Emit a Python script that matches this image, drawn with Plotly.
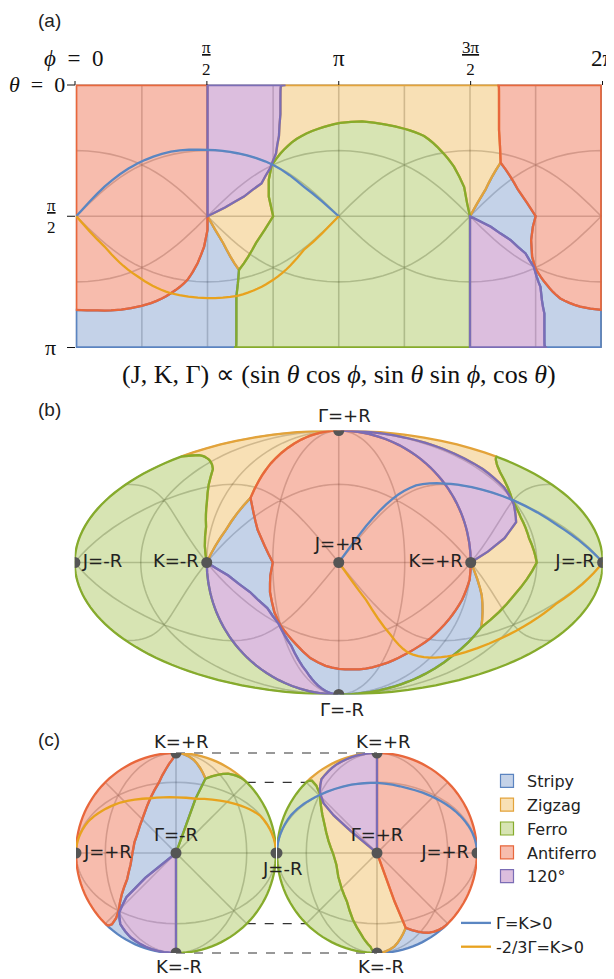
import numpy as np
import plotly.graph_objects as go

# Phase boundaries; phi, theta in degrees with
# (J, K, Gamma) ~ (sin th cos phi, sin th sin phi, cos th)

# antiferro / stripy, left branch
af_sz_l_phi = [90, 90, 87.7, 83.2, 76.3, 64.9, 51.3, 37.6, 23.9, 14.8, 0]
af_sz_l_th = [90, 99.4, 110.8, 122.2, 133.6, 142.8, 149.6, 153, 154.6, 154.6, 154.2]
# antiferro / stripy, right branch
af_sz_r_phi = [315, 313.1, 311.9, 312.6, 314.9, 322.8, 331.9, 345.5, 360]
af_sz_r_th = [90, 97.2, 106.4, 117.8, 125.8, 137.2, 146.4, 152, 154.2]
# antiferro / zigzag (top right)
af_zz_phi = [288.8, 289.9, 291]
af_zz_th = [0, 30.9, 53.3]
# antiferro / stripy wedge
af_tri_phi = [291, 302.9, 315]
af_tri_th = [53.3, 71.8, 90]
# antiferro / 120 (phi = pi/2)
af_v_phi = [90, 90]
af_v_th = [0, 90]
# zigzag / stripy
zz_sz_l_phi = [90, 100.7, 111.6]
zz_sz_l_th = [90, 108.3, 126.8]
zz_sz_r_phi = [270, 280.6, 291]
zz_sz_r_th = [90, 71.8, 53.3]
# 120 / zigzag
v_zz_phi = [90, 102, 115, 127, 133, 137, 139, 140, 143.5]
v_zz_th = [90, 84, 76.5, 67.5, 57, 47, 35, 20, 0]
# 120 / stripy (lower right)
v_sz_phi = [270, 284.3, 297.9, 308.1, 313.7, 318.3, 321, 322.8]
v_sz_th = [90, 97.2, 106.4, 115.5, 124.6, 138.4, 156.7, 180]
# ferro / zigzag dome
fm_zz_phi = [135, 132, 132, 134, 140, 151, 166, 181, 196, 211.5, 225, 238.5, 250, 259, 266, 268, 270]
fm_zz_th = [90, 76.5, 65, 55, 47, 37, 30, 26, 25, 27, 30, 35, 45, 56, 70, 81, 90]
fm_zz2_phi = [135, 123.3, 111.6]
fm_zz2_th = [90, 108.3, 126.8]
# ferro / stripy
fm_sz_phi = [111.6, 109.8, 108.2]
fm_sz_th = [126.8, 145, 180]
# ferro / 120 (phi = 3pi/2)
fm_v_phi = [270, 270]
fm_v_th = [90, 180]

# special lines
gk_phi = [0, 19.4, 42.2, 64.9, 90, 110.5, 135.1, 156, 180]       # Gamma = K > 0
gk_th = [90, 69.7, 53.7, 45.7, 44.5, 46.8, 54.8, 69.7, 90]
zk_phi = [0, 19.4, 42.2, 64.9, 90, 110.5, 135.1, 156, 180]       # -2/3 Gamma = K > 0
zk_th = [90, 110.8, 131.3, 142.8, 146.2, 144.6, 133.6, 113.1, 90]

# extra grid: great circles through the J and K axes at 45 deg
circ_lon = [[0, 90, 180, 270, 360], [0, 90, 180, 270, 360],
            [0, 90, 180, 270, 360], [0, 90, 180, 270, 360]]
circ_lat = [[0, 45, 0, -45, 0], [0, -45, 0, 45, 0],
            [45, 0, -45, 0, 45], [-45, 0, 45, 0, -45]]

phases = ['Stripy', 'Zigzag', 'Ferro', 'Antiferro', '120°']
line_col = {'Stripy': '#5b84c0', 'Zigzag': '#e3a33a', 'Ferro': '#86ab2c',
            'Antiferro': '#e8673c', '120°': '#7b6db5'}
fill_col = {'Stripy': 'rgba(125,155,205,0.45)', 'Zigzag': 'rgba(238,178,70,0.4)',
            'Ferro': 'rgba(150,185,55,0.38)', 'Antiferro': 'rgba(238,112,80,0.47)',
            '120°': 'rgba(185,125,190,0.5)'}
GK_COL, ZK_COL = '#5a86c2', '#e8a21e'
GRID = 'rgba(0,0,0,0.26)'
PT_COL = '#555555'
LABEL_FONT = dict(family='DejaVu Sans', size=18, color='#222')


def piece(phi, th, rev=False, shift=0):
    p = [x + shift for x in phi]
    t = list(th)
    if rev:
        p, t = p[::-1], t[::-1]
    return p, t


def ring(*pieces):
    lon, th = [], []
    for p, t in pieces:
        lon += p
        th += t
    lon.append(lon[0])
    th.append(th[0])
    lat = np.clip(90 - np.array(th, float), -89.9, 89.9)
    return lon, list(lat)


rings = {
    'Stripy': [ring(piece(zz_sz_r_phi, zz_sz_r_th, shift=-360),
                    piece(af_tri_phi, af_tri_th, shift=-360),
                    piece(af_sz_r_phi, af_sz_r_th, shift=-360),
                    piece(af_sz_l_phi, af_sz_l_th, rev=True),
                    piece(zz_sz_l_phi, zz_sz_l_th),
                    piece(fm_sz_phi, fm_sz_th),
                    piece(v_sz_phi, v_sz_th, rev=True, shift=-360))],
    'Zigzag': [ring(piece(af_zz_phi, af_zz_th),
                    piece(zz_sz_r_phi, zz_sz_r_th, rev=True),
                    piece(fm_zz_phi, fm_zz_th, rev=True),
                    piece(fm_zz2_phi, fm_zz2_th),
                    piece(zz_sz_l_phi, zz_sz_l_th, rev=True),
                    piece(v_zz_phi, v_zz_th))],
    'Antiferro': [ring(piece(af_v_phi, af_v_th),
                       piece(af_sz_l_phi, af_sz_l_th),
                       piece(af_sz_r_phi, af_sz_r_th, rev=True, shift=-360),
                       piece(af_tri_phi, af_tri_th, rev=True, shift=-360),
                       piece(af_zz_phi, af_zz_th, rev=True, shift=-360))],
    'Ferro': [ring(piece(fm_zz_phi, fm_zz_th),
                   piece(fm_v_phi, fm_v_th),
                   piece(fm_sz_phi, fm_sz_th, rev=True),
                   piece(fm_zz2_phi, fm_zz2_th, rev=True))],
    '120°': [ring(piece(af_v_phi, af_v_th, rev=True),
                  piece(v_zz_phi, v_zz_th, rev=True)),
             ring(piece(v_sz_phi, v_sz_th),
                  piece(fm_v_phi, fm_v_th, rev=True))],
}
draw_order = ['Stripy', 'Zigzag', 'Antiferro', 'Ferro', '120°']

# layout in page pixels (the page body adds an 8px margin)
OFF = 8
W, H = 606, 971
A_X, A_Y = (75, 602.5), (85, 347.5)
B_X, B_Y = (74.5, 603), (430.5, 694.5)
CL_X, CR_X, C_Y = (76, 276), (277, 477), (753, 953)


def px(x):
    return (x - OFF) / W


def py(y):
    return 1 - (y - OFF) / H


def geo_layout(proj, xs, ys, rot, frame=False, lonrange=None):
    d = dict(
        domain=dict(x=[px(xs[0]), px(xs[1])], y=[py(ys[1]), py(ys[0])]),
        projection=dict(type=proj, rotation=rot),
        showland=False, showocean=False, showlakes=False, showrivers=False,
        showcountries=False, showcoastlines=False, showsubunits=False,
        showframe=frame, framecolor='#333', framewidth=1,
        bgcolor='rgba(0,0,0,0)',
        lonaxis=dict(showgrid=True, dtick=45, tick0=0, gridcolor=GRID, gridwidth=1.6),
        lataxis=dict(showgrid=True, dtick=90, tick0=0, gridcolor=GRID, gridwidth=1.6),
    )
    if lonrange:
        d['lonaxis']['range'] = lonrange
    return d


fig = go.Figure()
geos = ['geo', 'geo2', 'geo3', 'geo4']

grid_lon, grid_lat = [], []
for lo, la in zip(circ_lon, circ_lat):
    grid_lon += lo + [None]
    grid_lat += la + [None]

for gi, g in enumerate(geos):
    fig.add_trace(go.Scattergeo(lon=grid_lon, lat=grid_lat, mode='lines',
                                line=dict(color=GRID, width=1.6), geo=g,
                                showlegend=False, hoverinfo='skip'))
    for name in draw_order:
        for lon, lat in rings[name]:
            fig.add_trace(go.Scattergeo(lon=lon, lat=lat, mode='lines', fill='toself',
                                        fillcolor=fill_col[name],
                                        line=dict(color=line_col[name], width=2.3),
                                        geo=g, showlegend=False, hoverinfo='skip'))
    fig.add_trace(go.Scattergeo(lon=gk_phi, lat=[90 - t for t in gk_th], mode='lines',
                                line=dict(color=GK_COL, width=2.3), geo=g, name='Γ=K>0',
                                legend='legend2', showlegend=(gi == 0), hoverinfo='skip'))
    fig.add_trace(go.Scattergeo(lon=zk_phi, lat=[90 - t for t in zk_th], mode='lines',
                                line=dict(color=ZK_COL, width=2.3), geo=g, name='-2/3Γ=K>0',
                                legend='legend2', showlegend=(gi == 0), hoverinfo='skip'))

# axis points; labels inside the maps go with the points
pts = {
    'geo2': dict(lon=[0, 90, -90, 179.9, -179.9, 0, 0],
                 lat=[0, 0, 0, 0, 0, 89.9, -89.9],
                 text=['J=+R', 'K=+R', 'K=-R', 'J=-R', 'J=-R', '', ''],
                 pos=['top center', 'middle left', 'middle left', 'middle left',
                      'middle right', 'top center', 'bottom center']),
    'geo3': dict(lon=[0, 0, 180, 90, 270],
                 lat=[-0.5, -90, -0.5, -0.5, -0.5],
                 text=['J=+R', 'Γ=-R', '', '', ''],
                 pos=['middle right', 'top center', 'bottom center', 'top center',
                      'bottom center']),
    'geo4': dict(lon=[0, 0, 90, -90, 180],
                 lat=[90, 0.5, 0.5, 0.5, 0.5],
                 text=['Γ=+R', 'J=+R', '', '', ''],
                 pos=['top center', 'middle left', 'top center', 'bottom center',
                      'bottom center']),
}
for g, p in pts.items():
    fig.add_trace(go.Scattergeo(lon=p['lon'], lat=p['lat'], text=p['text'],
                                mode='markers+text', textposition=p['pos'],
                                textfont=LABEL_FONT,
                                marker=dict(size=11, color=PT_COL), geo=g,
                                showlegend=False, hoverinfo='skip'))

# legend entries for the phases
for name in phases:
    fig.add_trace(go.Scattergeo(lon=[None], lat=[None], mode='markers', name=name,
                                marker=dict(symbol='square', size=13, color=fill_col[name],
                                            line=dict(color=line_col[name], width=1.2)),
                                geo='geo3', showlegend=True, legend='legend'))

LEG_FONT = dict(family='DejaVu Sans', size=16, color='#222')
fig.update_layout(
    width=W, height=H, margin=dict(l=0, r=0, t=0, b=0),
    paper_bgcolor='white', plot_bgcolor='white',
    geo=geo_layout('equirectangular', A_X, A_Y, dict(lon=180, lat=0), frame=True,
                   lonrange=[0, 360]),
    geo2=geo_layout('mollweide', B_X, B_Y, dict(lon=0, lat=0)),
    geo3=geo_layout('orthographic', CL_X, C_Y, dict(lon=90, lat=-90)),
    geo4=geo_layout('orthographic', CR_X, C_Y, dict(lon=-90, lat=90)),
    legend=dict(x=px(487), y=py(764), xanchor='left', yanchor='top',
                font=LEG_FONT, bgcolor='rgba(0,0,0,0)', tracegroupgap=0),
    legend2=dict(x=px(456), y=py(906), xanchor='left', yanchor='top',
                 font=LEG_FONT, bgcolor='rgba(0,0,0,0)'),
)


def note(x, y, text, font, xanchor='center', yanchor='middle'):
    fig.add_annotation(x=px(x), y=py(y), xref='paper', yref='paper', text=text,
                       showarrow=False, font=font, xanchor=xanchor, yanchor=yanchor)


# panel letters
LETTER_FONT = dict(family='Liberation Sans', size=19, color='#222')
note(49, 8, '(a)', LETTER_FONT, yanchor='top')
note(49, 409, '(b)', LETTER_FONT)
note(49, 739, '(c)', LETTER_FONT)

# labels that sit outside the map outlines
cxb = sum(B_X) / 2
cxl, cxr = sum(CL_X) / 2, sum(CR_X) / 2
cy, r = sum(C_Y) / 2, (C_Y[1] - C_Y[0]) / 2
outside = [(cxb + 6, B_Y[0] - 15, 'Γ=+R'), (cxb + 3, B_Y[1] + 15, 'Γ=-R'),
           (cxl + 5, C_Y[0] - 12, 'K=+R'), (cxr + 6, C_Y[0] - 12, 'K=+R'),
           (cxl + 3, C_Y[1] + 13, 'K=-R'), (cxr + 4, C_Y[1] + 13, 'K=-R'),
           (CL_X[1] + 6, cy + 15, 'J=-R')]
for x, y, t in outside:
    note(x, y, t, LABEL_FONT)

# panel (a) axis labels
SERIF = dict(family='Liberation Serif', size=22, color='#111')
phi_ticks = ['<i>ϕ</i>\u2002=\u20020', '<u>π</u><br>2', 'π', '<u>3π</u><br>2', '2π']
for k, t in enumerate(phi_ticks):
    x = A_X[0] + k / 4 * (A_X[1] - A_X[0])
    small = '<br>' in t
    note(x - (2 if k == 0 else 0), 58, t, dict(SERIF, size=17 if small else 23))
    fig.add_shape(type='line', xref='paper', yref='paper', x0=px(x), x1=px(x),
                  y0=py(A_Y[0] - 4), y1=py(A_Y[0]), line=dict(color='#111', width=1))
th_ticks = ['<i>θ</i>\u2002=\u20020', '<u>π</u><br>2', 'π']
for k, t in enumerate(th_ticks):
    y = A_Y[0] + k / 2 * (A_Y[1] - A_Y[0])
    small = '<br>' in t
    note(67 if k == 0 else 58, y, t, dict(SERIF, size=17 if small else 22), xanchor='right')
    fig.add_shape(type='line', xref='paper', yref='paper',
                  x0=px(A_X[0] - 8), x1=px(A_X[0]), y0=py(y), y1=py(y),
                  line=dict(color='#111', width=1))
note(338.5, 375, '(J, K, Γ) ∝ (sin <i>θ</i> cos <i>ϕ</i>, sin <i>θ</i> sin <i>ϕ</i>, cos <i>θ</i>)',
     dict(SERIF, size=26))

# dashed guides between the two hemispheres of panel (c)
for lon in [90, 135, 225, 270]:
    a = np.radians(lon)
    y = cy - r * np.sin(a)
    fig.add_shape(type='line', xref='paper', yref='paper',
                  x0=px(cxl - r * np.cos(a)), x1=px(cxr + r * np.cos(a)), y0=py(y), y1=py(y),
                  line=dict(color='#333', width=1.2, dash='dash'), layer='below')

fig.write_html("out.html")
